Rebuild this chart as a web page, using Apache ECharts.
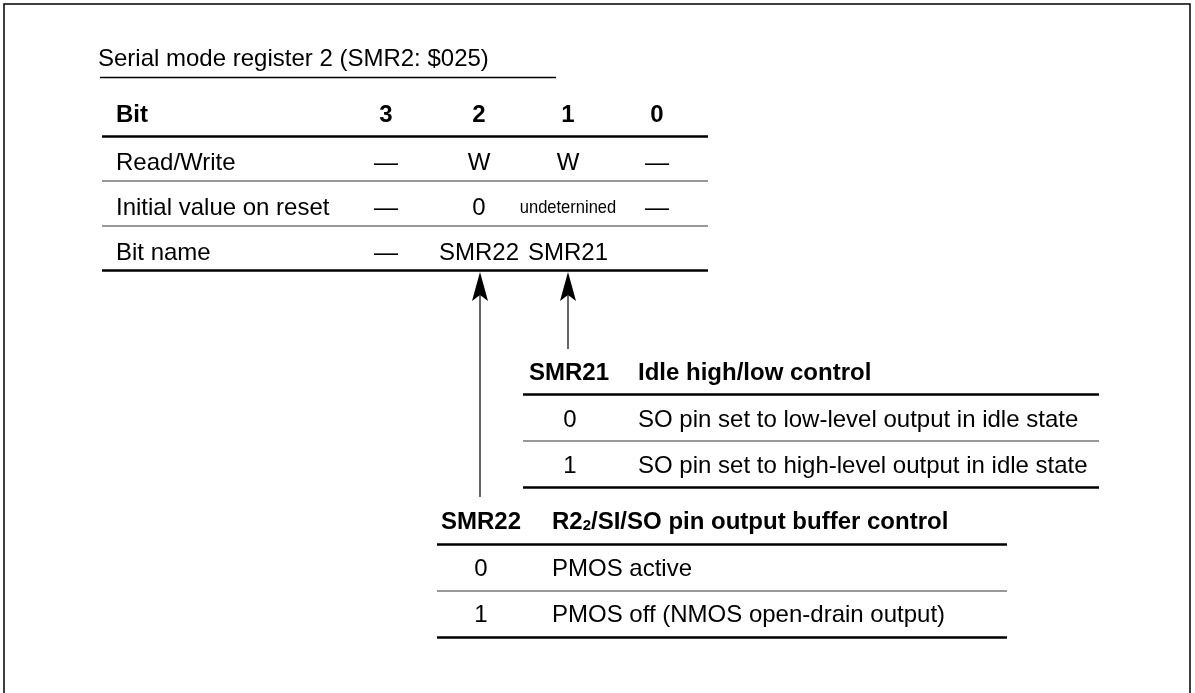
<!DOCTYPE html>
<html>
<head>
<meta charset="utf-8">
<script src="https://cdn.jsdelivr.net/npm/echarts@6/dist/echarts.min.js"></script>
<style>
html,body{margin:0;padding:0;background:#fff;}
#chart{width:1195px;height:693px;}
</style>
</head>
<body>
<div id="chart"></div>
<script>
// ---- content ----
const titleText = 'Serial mode register 2 (SMR2: $025)';
const headerLabel = 'Bit';
const bitHeaders = ['3', '2', '1', '0'];
const rowLabels = ['Read/Write', 'Initial value on reset', 'Bit name'];
const rwValues = ['—', 'W', 'W', '—'];
const initValues = ['—', '0', 'undeternined', '—'];
const nameValues = ['—', 'SMR22', 'SMR21', ''];

const smr21Name = 'SMR21';
const smr21Title = 'Idle high/low control';
const smr21Codes = ['0', '1'];
const smr21Desc = ['SO pin set to low-level output in idle state', 'SO pin set to high-level output in idle state'];

const smr22Name = 'SMR22';
const smr22TitleRich = 'R2{sub|2}/SI/SO pin output buffer control';
const smr22Codes = ['0', '1'];
const smr22Desc = ['PMOS active', 'PMOS off (NMOS open-drain output)'];

// ---- layout ----
const FONT = '"Liberation Sans", Arial, Helvetica, sans-serif';
const FS = 24;
const chart = echarts.init(document.getElementById('chart'), null, {renderer: 'canvas'});
const g = [];

function txt(x, y, text, opt) {
  opt = opt || {};
  const el = {
    type: 'text', x: x, y: y, silent: true,
    style: Object.assign({
      text: text, fill: '#000', font: (opt.bold ? 'bold ' : '') + (opt.size || FS) + 'px ' + FONT,
      align: opt.align || 'left', verticalAlign: 'middle'
    }, opt.style || {})
  };
  if (opt.scaleX) el.scaleX = opt.scaleX;
  g.push(el);
}
function hline(x1, x2, y, w, color) {
  g.push({type: 'line', silent: true, shape: {x1: x1, y1: y, x2: x2, y2: y},
    style: {stroke: color || '#000', lineWidth: w}});
}
function arrow(x, yTip, yEnd) {
  g.push({type: 'line', silent: true, shape: {x1: x, y1: yTip + 20, x2: x, y2: yEnd},
    style: {stroke: '#000', lineWidth: 1.2}});
  g.push({type: 'polygon', silent: true,
    shape: {points: [[x, yTip], [x + 8, yTip + 29], [x, yTip + 23], [x - 8, yTip + 29]]},
    style: {fill: '#000'}});
}

// frame
g.push({type: 'rect', silent: true, shape: {x: 4, y: 4, width: 1186, height: 720},
  style: {fill: 'none', stroke: '#000', lineWidth: 1.5}});

// title
txt(98, 59, titleText);
hline(100, 556, 77.5, 1.5);

// register table
const colX = [386, 479, 568, 657];
const rowY = [115, 163, 208, 253];
const labelX = 116;
txt(labelX, rowY[0], headerLabel, {bold: true});
bitHeaders.forEach((b, i) => txt(colX[i], rowY[0], b, {bold: true, align: 'center'}));
const rowVals = [rwValues, initValues, nameValues];
rowLabels.forEach((lab, r) => {
  txt(labelX, rowY[r + 1], lab);
  rowVals[r].forEach((v, i) => {
    if (!v) return;
    if (v === 'undeternined') {
      txt(colX[i], rowY[r + 1], v, {align: 'center', size: 19, scaleX: 0.87});
    } else {
      txt(colX[i], rowY[r + 1], v, {align: 'center'});
    }
  });
});
hline(102, 708, 136.5, 2.5);
hline(102, 708, 181, 1.2, '#333');
hline(102, 708, 226, 1.2, '#333');
hline(102, 708, 270.5, 2.5);

// arrows
arrow(480, 272, 497);
arrow(568, 272, 349);

// SMR21 table
const t1 = {left: 523, right: 1099, codeX: 569, descX: 638, headY: 373, rows: [420, 466], lines: [394.5, 441, 487.5]};
txt(t1.codeX, t1.headY, smr21Name, {bold: true, align: 'center'});
txt(t1.descX, t1.headY, smr21Title, {bold: true});
smr21Codes.forEach((c, i) => {
  txt(t1.codeX + 1, t1.rows[i], c, {align: 'center'});
  txt(t1.descX, t1.rows[i], smr21Desc[i]);
});
hline(t1.left, t1.right, t1.lines[0], 2.5);
hline(t1.left, t1.right, t1.lines[1], 1.2, '#333');
hline(t1.left, t1.right, t1.lines[2], 2.5);

// SMR22 table
const t2 = {left: 437, right: 1007, codeX: 481, descX: 552, headY: 522, rows: [569, 615], lines: [544.5, 591, 637.5]};
txt(t2.codeX, t2.headY, smr22Name, {bold: true, align: 'center'});
g.push({
  type: 'text', x: t2.descX, y: t2.headY, silent: true,
  style: {
    text: smr22TitleRich, fill: '#000', font: 'bold ' + FS + 'px ' + FONT,
    align: 'left', verticalAlign: 'middle',
    rich: {sub: {font: 'bold 15px ' + FONT, fill: '#000', padding: [8, 0, 0, 0]}}
  }
});
smr22Codes.forEach((c, i) => {
  txt(t2.codeX, t2.rows[i], c, {align: 'center'});
  txt(t2.descX, t2.rows[i], smr22Desc[i]);
});
hline(t2.left, t2.right, t2.lines[0], 2.5);
hline(t2.left, t2.right, t2.lines[1], 1.2, '#333');
hline(t2.left, t2.right, t2.lines[2], 2.5);

chart.setOption({animation: false, backgroundColor: '#fff', graphic: {elements: g}});
</script>
</body>
</html>
